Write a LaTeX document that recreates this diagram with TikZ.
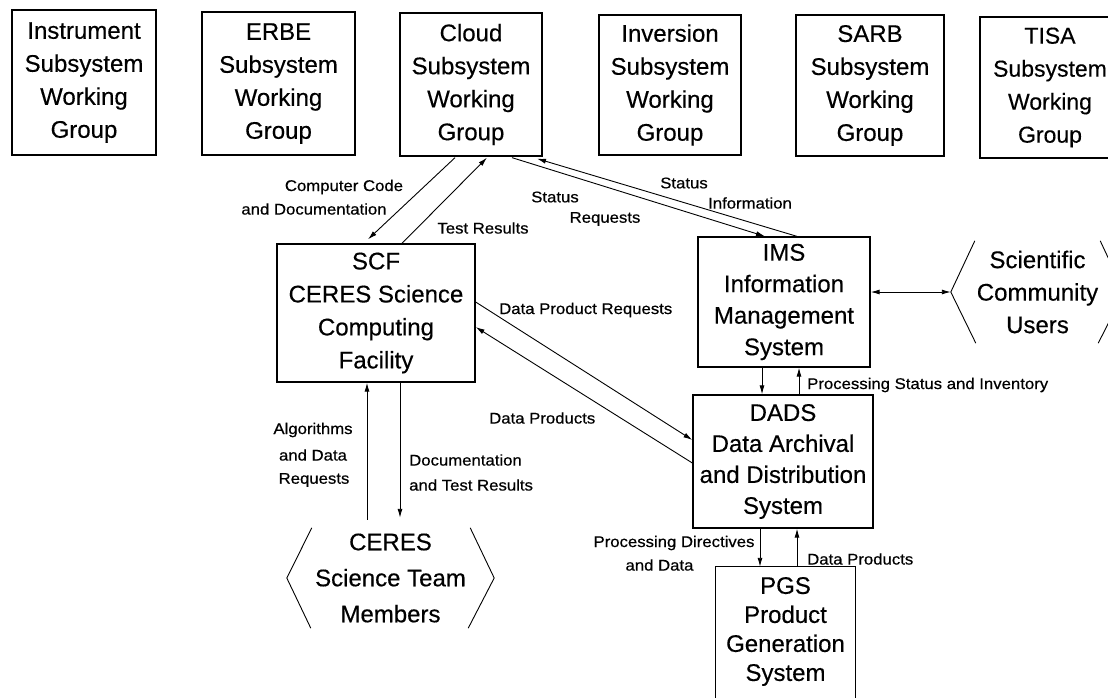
\documentclass[tikz,border=0pt]{standalone}
\usepackage{fontspec}
\setmainfont{Liberation Sans}[FakeBold=0.3]
\newfontfamily\boxfont[FakeBold=0.35]{Liberation Sans}
\newfontfamily\lblfont[FakeStretch=1.08,FakeBold=0.5]{Liberation Sans}
\usetikzlibrary{arrows.meta,calc}
\begin{document}
\begin{tikzpicture}[x=1pt,y=-1pt,
  box/.style={draw, line width=1.3pt, inner sep=0pt, align=center, font=\boxfont\fontsize{24}{33}\selectfont},
  bigbox/.style={draw, line width=1.3pt, inner sep=0pt, align=center},
  txt/.style={inner sep=0pt, align=center},
  lbl/.style={inner sep=0pt, font=\lblfont\fontsize{15.5}{22}\selectfont},
  conn/.style={line width=0.9pt, -{Latex[length=9pt,width=5pt]}},
  bconn/.style={line width=0.9pt, {Latex[length=9pt,width=5pt]}-{Latex[length=9pt,width=5pt]}},
  brk/.style={line width=0.9pt},
  edge/.style={line width=1.3pt},
]
\useasboundingbox (0,0) rectangle (1108,697);
\fill[white] (0,0) rectangle (1108,697);

% top working group boxes
\node[box, minimum width=144pt, minimum height=145pt] (inst) at (84,82.5) {Instrument\\Subsystem\\Working\\Group};
\node[box, minimum width=153pt, minimum height=143pt] (erbe) at (278.5,83.5) {ERBE\\Subsystem\\Working\\Group};
\node[box, minimum width=142pt, minimum height=143pt] (cloud) at (471,84.5) {Cloud\\Subsystem\\Working\\Group};
\node[box, minimum width=142pt, minimum height=140pt] (inv) at (670,85) {Inversion\\Subsystem\\Working\\Group};
\node[box, minimum width=148pt, minimum height=141pt] (sarb) at (870,85.5) {SARB\\Subsystem\\Working\\Group};
\node[box, minimum width=140pt, minimum height=141pt, font=\boxfont\fontsize{23}{33}\selectfont] (tisa) at (1050,87.5) {TISA\\Subsystem\\Working\\Group};

% main system boxes
\node[bigbox, minimum width=198pt, minimum height=138pt, font=\boxfont\fontsize{24}{33}\selectfont] (scf) at (376,313) {SCF\\CERES Science\\Computing\\Facility};
\node[bigbox, minimum width=172pt, minimum height=130pt, font=\boxfont\fontsize{24}{31.5}\selectfont] (ims) at (784,302) {IMS\\Information\\Management\\System};
\node[bigbox, minimum width=180pt, minimum height=133pt, font=\boxfont\fontsize{24}{31}\selectfont] (dads) at (783,461.5) {DADS\\Data Archival\\and Distribution\\System};
\node[txt, minimum width=139pt, minimum height=129pt, font=\boxfont\fontsize{24}{29}\selectfont] (pgs) at (785.5,631.5) {PGS\\Product\\Generation\\System};
\draw[edge] ($(pgs.south west)+(0,30)$) -- (pgs.north west) -- (pgs.north east) -- ($(pgs.south east)+(0,30)$);

% external entities
\node[txt, minimum width=207pt, minimum height=100pt, font=\boxfont\fontsize{24}{36}\selectfont] (ceres) at (390.5,578) {CERES\\Science Team\\Members};
\draw[brk] ($(ceres.north west)+(25,0)$) -- (ceres.west) -- ($(ceres.south west)+(24,0)$);
\draw[brk] ($(ceres.north east)+(-24,0)$) -- (ceres.east) -- ($(ceres.south east)+(-26,0)$);

\node[txt, minimum width=173pt, minimum height=102pt, font=\boxfont\fontsize{24}{32.5}\selectfont] (scu) at (1037.5,292) {Scientific\\Community\\Users};
\draw[brk] ($(scu.north west)+(24,0)$) -- (scu.west) -- ($(scu.south west)+(25,0)$);
\draw[brk] ($(scu.north east)+(-24,0)$) -- (scu.east) -- ($(scu.south east)+(-26,0)$);

% labels
\node[lbl] (lcc1) at (344,187) {Computer Code};
\node[lbl] (lcc2) at (314,209) {and Documentation};
\node[lbl] (ltr) at (483,228) {Test Results};
\node[lbl] (lsr1) at (555,197) {Status};
\node[lbl] (lsr2) at (605,219) {Requests};
\node[lbl] (lsi1) at (684,183) {Status};
\node[lbl] (lsi2) at (750,203) {Information};
\node[lbl, anchor=west] (ldpr) at (499,310) {Data Product Requests};
\node[lbl, anchor=west] (ldp) at (489,418) {Data Products};
\node[lbl] (lal1) at (313,430) {Algorithms};
\node[lbl] (lal2) at (313,455) {and Data};
\node[lbl] (lal3) at (314,480) {Requests};
\node[lbl, anchor=west] (ldoc1) at (409,460) {Documentation};
\node[lbl, anchor=west] (ldoc2) at (409,485) {and Test Results};
\node[lbl, anchor=west] (lpsi) at (807,385) {Processing Status and Inventory};
\node[lbl] (lpd1) at (674,543) {Processing Directives};
\node[lbl] (lpd2) at (659.5,565) {and Data};
\node[lbl, anchor=west] (lpgsdp) at (807,559) {Data Products};

% connectors
\draw[conn] ($(cloud.south)+(-16,1)$) -- ($(scf.north)+(-8,-4)$);
\draw[conn] ($(scf.north)+(26,0)$) -- ($(cloud.south)+(16,1)$);
\draw[conn] ($(cloud.south)+(41,1)$) -- ($(ims.north)+(-19,0)$);
\draw[conn] ($(ims.north)+(13,0)$) -- ($(cloud.south)+(66,2)$);
\draw[conn] ($(scf.east)+(0,-11)$) -- ($(dads.west)+(0,-21.5)$);
\draw[conn] ($(dads.west)+(0,1.5)$) -- ($(scf.east)+(0,14)$);
\draw[bconn] ($(ims.east)+(0,-10)$) -- (scu.west);
\draw[conn] ($(ims.south)+(-22,0)$) -- ($(dads.north)+(-21,0)$);
\draw[conn] ($(dads.north)+(16,0)$) -- ($(ims.south)+(15,0)$);
\draw[conn] ($(dads.south)+(-23,0)$) -- ($(pgs.north)+(-25.5,0)$);
\draw[conn] ($(pgs.north)+(11.5,0)$) -- ($(dads.south)+(14,0)$);
\draw[conn] ($(ceres.north)+(-23.5,-8)$) -- ($(scf.south)+(-9,0)$);
\draw[conn] ($(scf.south)+(24,0)$) -- ($(ceres.north)+(9.5,-10)$);
\end{tikzpicture}
\end{document}
